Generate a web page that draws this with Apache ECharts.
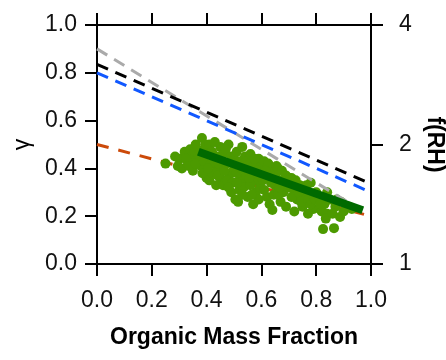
<!DOCTYPE html>
<html>
<head>
<meta charset="utf-8">
<script src="https://cdn.jsdelivr.net/npm/echarts@6/dist/echarts.min.js"></script>
<style>
  html, body { margin: 0; padding: 0; background: #fff; }
  #main { width: 446px; height: 360px; }
</style>
</head>
<body>
<div id="main"></div>
<script>
// dashed model lines: [x, gamma] end points
var grayLine = [[0, 0.9], [0.95, 0.235]]
var blackLine = [[0, 0.835], [1, 0.335]]
var blueLine = [[0, 0.80], [1, 0.30]]
var redLine = [[0, 0.5], [1, 0.2]]
// fit through the measurements
var fitLine = [[0.37, 0.47], [0.97, 0.225]]

// measured points: organic mass fraction, gamma
var points = [
  [0.25, 0.42], [0.285, 0.45], [0.30, 0.44], [0.295, 0.41],
  [0.31, 0.40], [0.32, 0.47], [0.33, 0.43], [0.34, 0.48], [0.35, 0.39], [0.345, 0.45],
  [0.325, 0.44], [0.335, 0.41], [0.355, 0.47],
  [0.36, 0.50], [0.37, 0.44], [0.383, 0.527], [0.38, 0.41], [0.39, 0.48], [0.36, 0.42],
  [0.40, 0.36], [0.40, 0.46], [0.385, 0.38], [0.395, 0.50], [0.375, 0.47], [0.39, 0.43],
  [0.41, 0.50], [0.42, 0.47], [0.43, 0.43], [0.41, 0.35], [0.44, 0.40], [0.45, 0.49],
  [0.42, 0.38], [0.43, 0.51], [0.44, 0.45], [0.45, 0.36], [0.415, 0.42], [0.435, 0.33],
  [0.425, 0.45], [0.445, 0.42], [0.405, 0.40], [0.44, 0.37],
  [0.46, 0.46], [0.47, 0.42], [0.48, 0.50], [0.49, 0.38], [0.50, 0.44], [0.46, 0.33],
  [0.47, 0.48], [0.48, 0.36], [0.49, 0.45], [0.50, 0.40], [0.505, 0.27], [0.49, 0.30],
  [0.465, 0.39], [0.475, 0.35], [0.485, 0.43], [0.495, 0.34], [0.48, 0.32],
  [0.51, 0.47], [0.52, 0.43], [0.53, 0.36], [0.54, 0.45], [0.55, 0.40], [0.52, 0.31],
  [0.53, 0.49], [0.54, 0.34], [0.51, 0.38], [0.55, 0.28], [0.515, 0.26], [0.545, 0.43],
  [0.525, 0.40], [0.535, 0.32], [0.51, 0.34], [0.545, 0.37], [0.53, 0.29],
  [0.56, 0.46], [0.57, 0.41], [0.58, 0.35], [0.59, 0.44], [0.60, 0.38], [0.57, 0.25],
  [0.58, 0.30], [0.56, 0.33], [0.59, 0.27], [0.60, 0.42], [0.565, 0.38],
  [0.575, 0.44], [0.585, 0.39], [0.595, 0.32], [0.565, 0.29], [0.555, 0.36],
  [0.61, 0.43], [0.62, 0.36], [0.63, 0.40], [0.64, 0.385], [0.65, 0.33], [0.62, 0.28],
  [0.63, 0.25], [0.64, 0.226], [0.61, 0.31], [0.65, 0.37], [0.625, 0.42],
  [0.615, 0.39], [0.635, 0.34], [0.645, 0.29], [0.655, 0.41], [0.605, 0.35],
  [0.66, 0.40], [0.67, 0.35], [0.68, 0.30], [0.69, 0.37], [0.70, 0.32], [0.67, 0.26],
  [0.69, 0.24], [0.66, 0.29], [0.70, 0.36], [0.675, 0.39], [0.685, 0.33], [0.665, 0.32],
  [0.71, 0.36], [0.72, 0.31], [0.73, 0.27], [0.74, 0.33], [0.75, 0.24], [0.72, 0.22],
  [0.75, 0.29], [0.71, 0.28], [0.725, 0.35], [0.735, 0.30], [0.745, 0.26],
  [0.76, 0.31], [0.77, 0.27], [0.78, 0.34], [0.79, 0.23], [0.80, 0.30], [0.78, 0.25], [0.77, 0.21],
  [0.765, 0.33], [0.785, 0.29], [0.795, 0.27],
  [0.81, 0.28], [0.82, 0.22], [0.825, 0.146], [0.83, 0.25], [0.84, 0.21], [0.85, 0.27], [0.84, 0.30],
  [0.815, 0.25], [0.835, 0.19],
  [0.865, 0.15], [0.87, 0.24], [0.887, 0.197], [0.89, 0.26], [0.90, 0.22], [0.92, 0.24], [0.93, 0.23],
  [0.86, 0.21], [0.875, 0.27]
]

var xTicks = [0, 0.2, 0.4, 0.6, 0.8, 1.0]
var fRHTicks = [1, 2, 4]

var font = 'Liberation Sans, Arial, sans-serif'

function axisLine() {
  return { show: true, onZero: false, lineStyle: { color: '#000', width: 2 } }
}
function axisTick() {
  return { show: true, length: 12, lineStyle: { color: '#000', width: 2 } }
}
function tickLabel(margin, formatter) {
  return { show: true, margin: margin, color: '#111', fontSize: 23, fontFamily: font, formatter: formatter }
}
function oneDecimal(v) { return v.toFixed(1) }

function dashed(name, data, color, dash, z) {
  return {
    name: name,
    type: 'line',
    data: data,
    showSymbol: false,
    symbol: 'none',
    z: z,
    lineStyle: { color: color, width: 3, type: dash },
    silent: true
  }
}

var myChart = echarts.init(document.getElementById('main'))
myChart.setOption({
  animation: false,
  grid: { left: 97, right: 75, top: 25, bottom: 96, containLabel: false, outerBoundsMode: 'none' },
  xAxis: [
    {
      type: 'value',
      min: 0,
      max: 1,
      interval: 0.2,
      position: 'bottom',
      name: 'Organic Mass Fraction',
      nameLocation: 'middle',
      nameGap: 62,
      nameTextStyle: { color: '#000', fontSize: 23, fontWeight: 'bold', fontFamily: font },
      axisLine: axisLine(),
      axisTick: axisTick(),
      axisLabel: tickLabel(25, oneDecimal),
      splitLine: { show: false }
    },
    {
      type: 'value',
      min: 0,
      max: 1,
      interval: 0.2,
      position: 'top',
      axisLine: axisLine(),
      axisTick: axisTick(),
      axisLabel: { show: false },
      splitLine: { show: false }
    }
  ],
  yAxis: [
    {
      type: 'value',
      min: 0,
      max: 1,
      interval: 0.2,
      position: 'left',
      name: 'γ',
      nameLocation: 'middle',
      nameGap: 57,
      nameRotate: 90,
      nameTextStyle: { color: '#000', fontSize: 23, fontFamily: font },
      axisLine: axisLine(),
      axisTick: axisTick(),
      axisLabel: tickLabel(20, oneDecimal),
      splitLine: { show: false }
    },
    {
      type: 'log',
      logBase: 2,
      min: 1,
      max: 4,
      position: 'right',
      name: 'f(RH)',
      nameLocation: 'middle',
      nameGap: 50,
      nameRotate: -90,
      nameTextStyle: { color: '#000', fontSize: 23, fontWeight: 'bold', fontFamily: font },
      axisLine: axisLine(),
      axisTick: axisTick(),
      axisLabel: tickLabel(28, function (v) { return fRHTicks.indexOf(v) >= 0 ? String(v) : '' }),
      splitLine: { show: false }
    }
  ],
  series: [
    dashed('red', redLine, '#cc4a0a', [12, 10], 1),
    {
      name: 'measured',
      type: 'scatter',
      data: points,
      symbolSize: 10,
      z: 2,
      itemStyle: { color: '#4c9a00', opacity: 1 },
      silent: true
    },
    dashed('gray', grayLine, '#aaaaaa', [12, 8], 3),
    dashed('blue', blueLine, '#1158ff', [12, 8], 3),
    dashed('black', blackLine, '#000000', [12, 8], 3),
    {
      name: 'fit',
      type: 'line',
      data: fitLine,
      showSymbol: false,
      symbol: 'none',
      z: 4,
      lineStyle: { color: '#006a00', width: 8 },
      silent: true
    }
  ]
})
</script>
</body>
</html>
